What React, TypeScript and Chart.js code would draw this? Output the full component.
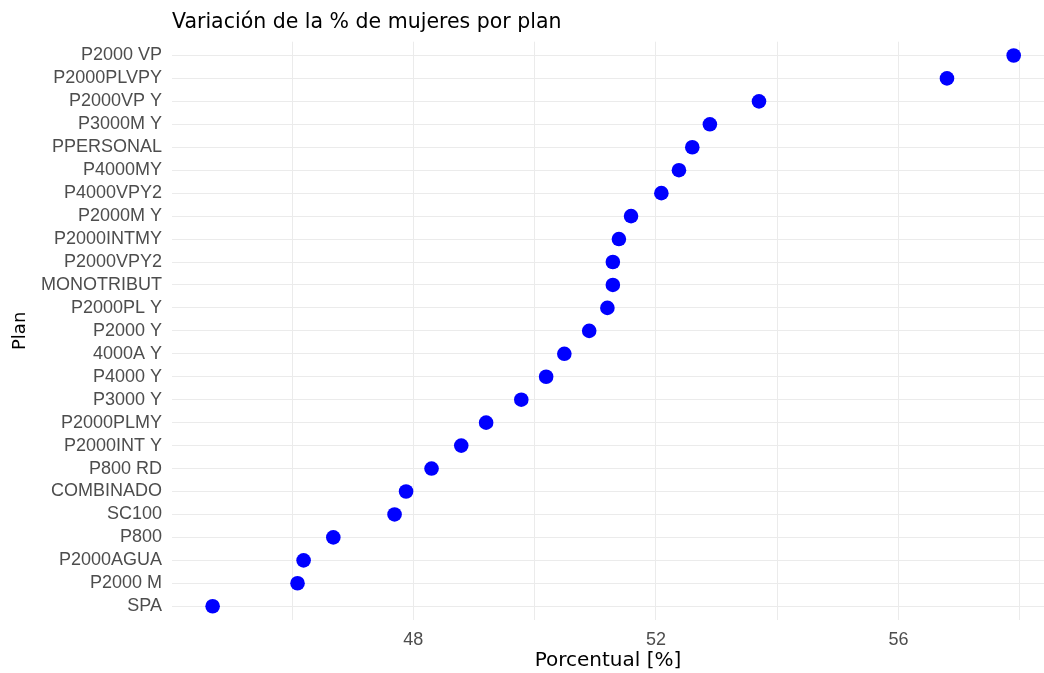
import React, { useEffect, useRef } from 'react';
import { Chart, registerables } from 'chart.js';

Chart.register(...registerables);

const plans = [
  'P2000 VP', 'P2000PLVPY', 'P2000VP Y', 'P3000M Y', 'PPERSONAL', 'P4000MY', 'P4000VPY2',
  'P2000M Y', 'P2000INTMY', 'P2000VPY2', 'MONOTRIBUT', 'P2000PL Y', 'P2000 Y', '4000A Y',
  'P4000 Y', 'P3000 Y', 'P2000PLMY', 'P2000INT Y', 'P800 RD', 'COMBINADO', 'SC100', 'P800',
  'P2000AGUA', 'P2000 M', 'SPA',
];
const womenPct = [
  57.9, 56.8, 53.7, 52.89, 52.6, 52.38, 52.09,
  51.59, 51.39, 51.29, 51.29, 51.2, 50.9, 50.49,
  50.19, 49.78, 49.2, 48.79, 48.3, 47.88, 47.69, 46.68,
  46.19, 46.09, 44.69,
];
const xTickValues = [46, 48, 50, 52, 54, 56, 58];
const xTickLabels = ['', '48', '', '52', '', '56', ''];

const chartTitle = 'Variación de la % de mujeres por plan';
const xTitle = 'Porcentual [%]';
const yTitle = 'Plan';

const TITLE_FONT = "'DejaVu Sans', 'Liberation Sans', Arial, sans-serif";
const TICK_FONT = "'Liberation Sans', Arial, Helvetica, sans-serif";

export default function App() {
  const ref = useRef<HTMLCanvasElement | null>(null);

  useEffect(() => {
    if (!ref.current) return;
    const chart = new Chart(ref.current, {
      type: 'scatter',
      data: {
        datasets: [
          {
            data: plans.map((p, i) => ({ x: womenPct[i], y: i })),
            backgroundColor: '#0000ff',
            borderColor: '#0000ff',
            borderWidth: 0,
            pointRadius: 7.3,
            pointHoverRadius: 7.3,
          },
        ],
      },
      options: {
        animation: false,
        responsive: false,
        devicePixelRatio: 1,
        layout: { padding: 0, autoPadding: false },
        plugins: {
          legend: { display: false },
          tooltip: { enabled: false },
          title: {
            display: true,
            text: chartTitle,
            align: 'start',
            fullSize: false,
            color: '#000000',
            font: { family: TITLE_FONT, size: 20.5, weight: 'normal', lineHeight: 1.2 },
            padding: { top: 10, bottom: 7.1 },
          },
        },
        scales: {
          x: {
            type: 'linear',
            min: 44.02,
            max: 58.4,
            afterBuildTicks: (s: any) => {
              s.ticks = xTickValues.map((v) => ({ value: v }));
            },
            afterFit: (s: any) => {
              s.height = 53;
            },
            ticks: {
              autoSkip: false,
              maxRotation: 0,
              padding: 0,
              color: '#4d4d4d',
              font: { family: TICK_FONT, size: 18 },
              callback: (v: any) => {
                const k = xTickValues.indexOf(Number(v));
                return k >= 0 ? xTickLabels[k] : '';
              },
            },
            grid: {
              color: '#ebebeb',
              lineWidth: 1,
              drawTicks: true,
              tickLength: 9,
              tickColor: 'rgba(0,0,0,0)',
            },
            border: { display: false },
            title: {
              display: true,
              text: xTitle,
              color: '#000000',
              font: { family: TITLE_FONT, size: 20, lineHeight: 1.2 },
              padding: { top: 0, bottom: 0 },
            },
          },
          y: {
            type: 'linear',
            reverse: true,
            min: -0.6,
            max: plans.length - 1 + 0.6,
            afterBuildTicks: (s: any) => {
              s.ticks = plans.map((_, i) => ({ value: i }));
            },
            afterFit: (s: any) => {
              s.width = 172;
            },
            ticks: {
              autoSkip: false,
              padding: 10,
              color: '#4d4d4d',
              font: { family: TICK_FONT, size: 18 },
              callback: (v: any) => plans[Number(v)] ?? '',
            },
            grid: { color: '#ebebeb', lineWidth: 1, drawTicks: false },
            border: { display: false },
            title: {
              display: true,
              text: yTitle,
              color: '#000000',
              font: { family: TITLE_FONT, size: 18, lineHeight: 1.2 },
              padding: { top: 9.7, bottom: 0 },
            },
          },
        },
      },
    });
    return () => chart.destroy();
  }, []);

  return (
    <div style={{ position: 'absolute', left: 0, top: 0, width: 1044, height: 673, background: '#ffffff' }}>
      <canvas ref={ref} width={1044} height={673} style={{ display: 'block' }} />
    </div>
  );
}
